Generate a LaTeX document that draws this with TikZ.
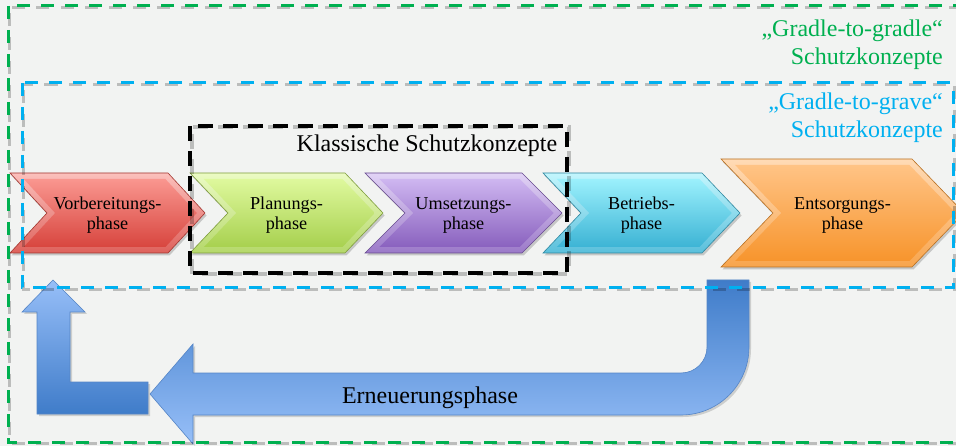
\documentclass[tikz,border=0pt]{standalone}
\usepackage{fontspec}
\setmainfont{Liberation Serif}
\usetikzlibrary{calc}

\definecolor{paper}{HTML}{F2F3F2}
\definecolor{frmgreen}{HTML}{00B050}
\definecolor{frmblue}{HTML}{00B0F0}
% phase colours: top / bottom of the body gradient, bevel rim and edge derived from them
\newcommand\phasecolours[3]{%
  \definecolor{#1top}{HTML}{#2}\definecolor{#1bot}{HTML}{#3}%
  \colorlet{#1rimtop}{#1top!60!white}%
  \colorlet{#1rimbot}{#1bot!85!white}%
  \colorlet{#1edge}{#1bot!75!black}}
\phasecolours{chr}{F9968F}{D8463F}
\phasecolours{chg}{DEF89C}{A8D150}
\phasecolours{chp}{CEB6F0}{8A62BF}
\phasecolours{chc}{9BF0FC}{3DB4D5}
\phasecolours{cho}{FFC385}{F7952D}
\definecolor{arrdark}{HTML}{3F7CC9}
\definecolor{arrmid}{HTML}{76A3E3}
\definecolor{arrlight}{HTML}{97BFF8}
\definecolor{arredge}{HTML}{5585C6}

% chevron: name, left x, width, tip depth, top y, bottom y, colour prefix, label
\newcommand\phasechev[8]{%
  \pgfmathsetmacro\chvM{(#5+#6)/2}%
  \pgfmathsetmacro\chvH{(#6-#5)/2}%
  \pgfmathsetmacro\chvA{6*sqrt((#4)*(#4)+\chvH*\chvH)/\chvH}%
  \pgfmathsetmacro\chvE{6*(#4)/\chvH}%
  \fill[black,opacity=.18] (#2+1.5,#5+2.5) -- (#2+#3-#4+1.5,#5+2.5) -- (#2+#3+1.5,\chvM+2.5)
     -- (#2+#3-#4+1.5,#6+2.5) -- (#2+1.5,#6+2.5) -- (#2+#4+1.5,\chvM+2.5) -- cycle;
  \path[top color=#7rimtop, bottom color=#7rimbot, draw=#7edge, line width=.6]
     (#2,#5) -- (#2+#3-#4,#5) -- (#2+#3,\chvM) -- (#2+#3-#4,#6) -- (#2,#6) -- (#2+#4,\chvM) -- cycle;
  \path[top color=#7top, bottom color=#7bot]
     (#2+\chvE+\chvA,#5+6) -- (#2+#3-#4+\chvE-\chvA,#5+6) -- (#2+#3-\chvA,\chvM)
     -- (#2+#3-#4+\chvE-\chvA,#6-6) -- (#2+\chvE+\chvA,#6-6) -- (#2+#4+\chvA,\chvM) -- cycle;
  \node[phaselabel] (#1) at (#2+#3/2,\chvM+2.5) {#8};
}

\begin{document}
\begin{tikzpicture}[x=1pt,y=-1pt,
  phaselabel/.style={font=\fontsize{18.2}{20}\selectfont, align=center, inner sep=0pt},
  bigtext/.style={font=\fontsize{24}{28}\selectfont, inner sep=0pt},
  frameline/.style={line width=3pt, dash pattern=on 13pt off 11pt},
  frameshadow/.style={line width=3pt, dash pattern=on 13pt off 11pt, dash phase=18pt,
                      draw=black, opacity=.22},
  arrowbody/.style={draw=arredge, line width=.6pt}]
\useasboundingbox (0,0) rectangle (956,446);
\clip (0,0) rectangle (956,446);
\fill[paper] (0,0) rectangle (956,446);

% the five life-cycle phases
\phasechev{vorb}{10}{195}{37}{173}{253}{chr}{Vorbereitungs-\\phase}
\phasechev{plan}{190}{193}{38}{173}{253}{chg}{Planungs-\\phase}
\phasechev{ums}{365}{197}{40}{173}{253}{chp}{Umsetzungs-\\phase}
\phasechev{betr}{543}{197}{38}{173}{253}{chc}{Betriebs-\\phase}
\phasechev{ents}{721}{243}{52}{159}{267}{cho}{Entsorgungs-\\phase}

% renewal loop: U-turn arrow back to the left
\fill[black,opacity=.15] (709,282) -- (751,282) -- (751,349) .. controls (751,386.6) and (720.6,417) .. (683,417)
   -- (195,417) -- (195,446) -- (152,396) -- (195,346) -- (195,375) -- (683,375)
   .. controls (697.4,375) and (709,363.4) .. (709,349) -- cycle;
\path[arrowbody, top color=arrdark, middle color=arrmid, bottom color=arrlight]
   (707,280) -- (749,280) -- (749,347) .. controls (749,384.6) and (718.6,415) .. (681,415)
   -- (193,415) -- (193,444) -- (150,394) -- (193,344) -- (193,373) -- (681,373)
   .. controls (695.4,373) and (707,361.4) .. (707,347) -- cycle;
\node[bigtext, anchor=base] (renew) at (430,403) {Erneuerungsphase};

% L-shaped arrow up to the first phase
\fill[black,opacity=.15] (39,416) -- (150,416) -- (150,384) -- (72,384) -- (72,314) -- (87,314)
   -- (55,282) -- (24,314) -- (39,314) -- cycle;
\path[arrowbody, top color=arrlight, bottom color=arrdark]
   (37,414) -- (148,414) -- (148,382) -- (70,382) -- (70,312) -- (85,312)
   -- (53,280) -- (22,312) -- (37,312) -- cycle;

% scope frames
\draw[frameshadow] (9.5,7.5) rectangle (976.5,443.5);
\draw[frameline, frmgreen] (8,6) rectangle (975,442);
\draw[frameshadow] (23.5,84.5) rectangle (954.5,289.5);
\draw[frameline, frmblue] (22,83) rectangle (953,288);
\draw[frameshadow, line width=4pt, dash pattern=on 15pt off 10pt] (191.5,127.5) rectangle (568.5,274.5);
\draw[line width=4pt, dash pattern=on 15pt off 10pt, black] (190,126) rectangle (567,273);

% frame captions (base anchor sits on the last line)
\node[bigtext, text=frmgreen, align=right, anchor=base east] (g2g) at (943,65)
  {„Gradle-to-gradle“\\Schutzkonzepte};
\node[bigtext, text=frmblue, align=right, anchor=base east] (g2v) at (943,138)
  {„Gradle-to-grave“\\Schutzkonzepte};
\node[bigtext, anchor=base] (klass) at (427,152) {Klassische Schutzkonzepte};
\end{tikzpicture}
\end{document}
